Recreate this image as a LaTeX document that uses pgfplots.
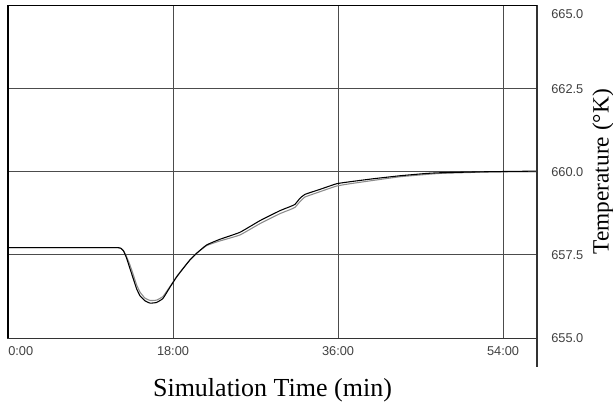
\documentclass[border=0pt]{standalone}
\usepackage{fontspec}
\setmainfont{Liberation Serif}
\newfontfamily\tickfont{Liberation Sans}
\usepackage{pgfplots}
\pgfplotsset{compat=1.18}

\begin{document}
\begin{tikzpicture}
\begin{axis}[
    name=ax,
    at={(0,0)}, anchor=south west,
    scale only axis,
    width=396.75pt, height=249.4pt,
    xmin=0, xmax=57.7,
    ymin=655, ymax=665,
    xtick={18,36,54},
    xticklabels={18:00,36:00,54:00},
    extra x ticks={0},
    extra x tick labels={0:00},
    extra x tick style={xticklabel style={anchor=north west}},
    ytick={655,657.5,660,662.5},
    extra y ticks={665},
    extra y tick style={yticklabel style={yshift=-6.4pt}},
    yticklabel pos=right,
    major tick length=0pt,
    tick label style={font=\tickfont\fontsize{9.6}{11}\selectfont, text=black!75},
    xticklabel style={anchor=north, inner sep=0pt, yshift=-6.4pt},
    yticklabel style={anchor=west, inner sep=0pt, xshift=10.5pt},
    /pgf/number format/.cd, fixed, fixed zerofill, precision=1, 1000 sep={},
    assume math mode=true,
    /pgfplots/.cd,
    grid=major,
    grid style={black!70, line width=0.75pt},
    axis line style={black!80, line width=0.75pt},
]

% second trace (grey)
\addplot[black!45, line width=0.8pt, smooth, tension=0.25] coordinates {
    (0,657.72) (6,657.72) (11.5,657.72) (12.0,657.72) (12.3,657.7)
    (12.55,657.64) (12.85,657.5) (13.3,657.2)
    (13.67,656.9) (14.03,656.6) (14.4,656.38) (14.94,656.2) (15.5,656.13)
    (16.2,656.14) (16.9,656.25) (17.67,656.55) (18.4,656.85) (19.1,657.1)
    (19.85,657.35) (20.58,657.55) (21.67,657.78) (23.12,657.92) (25.3,658.1)
    (27.48,658.44) (29.66,658.74) (30.75,658.86) (31.3,658.93) (31.84,659.1)
    (32.39,659.24) (34.02,659.4) (35.84,659.57) (37.3,659.64) (39.84,659.74)
    (42.75,659.85) (45.66,659.92) (47.1,659.95) (52,659.99) (57.7,660.0)
};

% first trace (black)
\addplot[black, line width=0.8pt, smooth, tension=0.25] coordinates {
    (0,657.72) (6,657.72) (11.5,657.72) (12.0,657.72) (12.3,657.7)
    (12.6,657.62) (12.94,657.4) (13.3,657.09)
    (13.67,656.78) (14.03,656.48) (14.4,656.27) (14.94,656.12) (15.5,656.05)
    (16.2,656.07) (16.9,656.19) (17.67,656.53) (18.4,656.84) (19.1,657.09)
    (19.85,657.35) (20.58,657.55) (21.67,657.8) (23.12,657.97) (25.3,658.18)
    (27.48,658.53) (29.66,658.83) (30.75,658.95) (31.3,659.02) (31.84,659.2)
    (32.39,659.32) (34.02,659.47) (35.84,659.64) (37.3,659.7) (39.84,659.79)
    (42.75,659.88) (45.66,659.95) (47.1,659.97) (52,660.0) (57.7,660.02)
};
\end{axis}

% heavier top and left border, right axis running below the frame
\draw[black, line width=1.4pt] (ax.south west) -- (ax.north west) -- (ax.north east);
\draw[black!80, line width=1pt] (ax.north east) -- ([yshift=-21.75pt]ax.south east);

\node[font=\fontsize{19.5}{22}\selectfont] at ([yshift=-39pt]ax.south) {Simulation Time (min)};
\node[rotate=90, font=\fontsize{17.5}{20}\selectfont] at ([xshift=49.5pt]ax.east) {Temperature (°K)};

\pgfresetboundingbox
\path[use as bounding box] ([shift={(-6pt,-51pt)}]ax.south west) rectangle ([shift={(57pt,4.125pt)}]ax.north east);
\end{tikzpicture}
\end{document}
